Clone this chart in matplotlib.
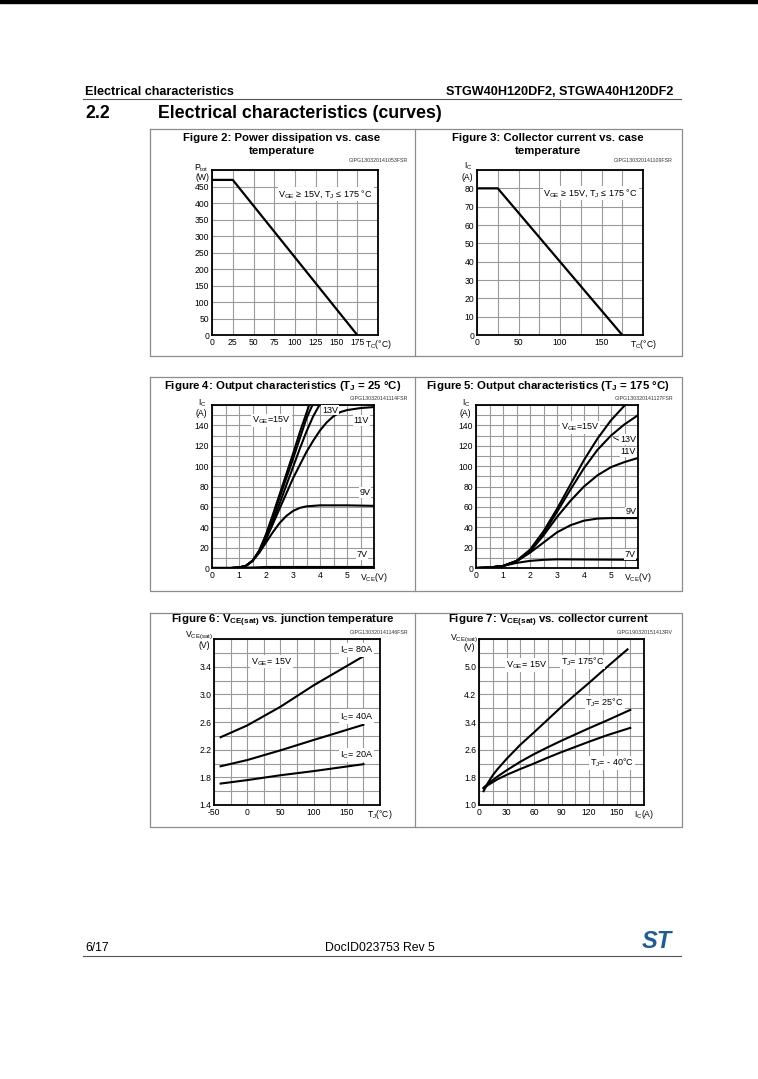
import matplotlib
matplotlib.use("Agg")
import matplotlib.pyplot as plt
import numpy as np

plt.rcParams['font.family'] = ['Liberation Sans', 'DejaVu Sans']
plt.rcParams['mathtext.fontset'] = 'custom'
plt.rcParams['mathtext.rm'] = 'Liberation Sans'
plt.rcParams['mathtext.bf'] = 'Liberation Sans:bold'
plt.rcParams['mathtext.it'] = 'Liberation Sans:italic'

W, H = 758, 1079

# ---- data ----
# Figure 2: power dissipation vs case temperature
tc_pd = [0, 25, 175]
ptot = [470, 470, 0]

# Figure 3: collector current vs case temperature
tc_ic = [0, 25, 175]
ic_max = [80, 80, 0]

# Figure 4: output characteristics, Tj = 25 C
vce4_15a = [0, 0.7, 1.0, 1.25, 1.5, 1.75, 2.0, 2.25, 2.5, 2.75, 3.0, 3.25, 3.6]
ic4_15a = [0, 0, 0.5, 2, 7, 17, 33, 52, 72, 92, 112, 133, 160]
vce4_15b = [0, 0.7, 1.0, 1.25, 1.5, 1.75, 2.0, 2.25, 2.5, 2.75, 3.0, 3.25, 3.5, 3.72]
ic4_15b = [0, 0, 0.5, 2, 7, 17, 32, 50, 69, 88, 107, 127, 147, 160]
vce4_13 = [0, 0.7, 1.0, 1.25, 1.5, 1.75, 2.0, 2.25, 2.5, 2.75, 3.0, 3.25, 3.5, 3.75, 3.98]
ic4_13 = [0, 0, 0.5, 2, 7, 16, 30, 46, 63, 81, 99, 117, 134, 149, 160]
vce4_11 = [0, 0.7, 1.0, 1.25, 1.5, 1.75, 2.0, 2.25, 2.5, 2.75, 3.0, 3.25, 3.5, 3.75,
           4.0, 4.25, 4.5, 4.75, 5.0, 5.5, 6.0]
ic4_11 = [0, 0, 0.5, 2, 7, 16, 28, 43, 58, 73, 88, 101, 114, 125,
          135, 143, 149, 153, 155, 157, 158]
vce4_9 = [0, 0.7, 1.0, 1.25, 1.5, 1.75, 2.0, 2.25, 2.5, 2.75, 3.0, 3.25, 3.5, 4.0, 5.0, 6.0]
ic4_9 = [0, 0, 0.5, 2, 7, 15, 25, 35, 44, 51, 56, 59, 60.5, 61.5, 61.5, 61]
vce4_7 = [0, 0.7, 1.5, 2.0, 6.0]
ic4_7 = [0, 0, 0.5, 1, 1]

# Figure 5: output characteristics, Tj = 175 C
vce5_15 = [0, 0.5, 1.0, 1.5, 2.0, 2.5, 3.0, 3.5, 4.0, 4.5, 5.0, 5.52]
ic5_15 = [0, 0.5, 2, 7, 18, 36, 58, 82, 106, 127, 145, 160]
vce5_13 = [0, 0.5, 1.0, 1.5, 2.0, 2.5, 3.0, 3.5, 4.0, 4.5, 5.0, 5.5, 6.0]
ic5_13 = [0, 0.5, 2, 7, 17, 34, 55, 77, 98, 116, 130, 141, 150]
vce5_11 = [0, 0.5, 1.0, 1.5, 2.0, 2.5, 3.0, 3.5, 4.0, 4.5, 5.0, 5.5, 6.0]
ic5_11 = [0, 0.5, 2, 6.5, 16, 32, 50, 66, 80, 91, 99, 104, 108]
vce5_9 = [0, 0.5, 1.0, 1.5, 2.0, 2.5, 3.0, 3.5, 4.0, 4.5, 5.0, 6.0]
ic5_9 = [0, 0.5, 2, 6.5, 15, 25, 35, 42, 46.5, 48.5, 49, 49]
vce5_7 = [0, 0.5, 1.0, 1.5, 2.0, 2.5, 3.0, 6.0]
ic5_7 = [0, 0.5, 2, 5, 7, 8, 8.5, 8]

# Figure 6: VCE(sat) vs junction temperature
tj6 = [-40, 0, 50, 100, 175]
vsat6_80 = [2.38, 2.55, 2.82, 3.13, 3.55]
vsat6_40 = [1.96, 2.05, 2.19, 2.34, 2.56]
vsat6_20 = [1.71, 1.76, 1.83, 1.89, 1.99]

# Figure 7: VCE(sat) vs collector current
ic7 = [5, 10, 15, 20, 30, 45, 60, 75, 90, 105, 120, 140, 162]
vsat7_175 = [1.40, 1.65, 1.86, 2.03, 2.33, 2.74, 3.10, 3.47, 3.84, 4.19, 4.53, 5.00, 5.50]
ic7b = [5, 10, 15, 20, 30, 45, 60, 75, 90, 105, 120, 140, 165]
vsat7_25 = [1.50, 1.62, 1.72, 1.82, 2.00, 2.25, 2.47, 2.67, 2.86, 3.04, 3.22, 3.45, 3.75]
vsat7_m40 = [1.48, 1.58, 1.66, 1.74, 1.87, 2.04, 2.20, 2.37, 2.53, 2.68, 2.83, 3.02, 3.23]

GRID = '#9a9a9a'
BORDER = '#8c8c8c'
TICK_FS = 6.2
LAB_FS = 6.5


def rect(l, t, r, b):
    return [l / W, 1 - b / H, (r - l) / W, (b - t) / H]


def make_axes(box, xlim, ylim, xgrid, ygrid, xticks, xlabels, yticks, ylabels):
    ax = fig.add_axes(rect(*box))
    ax.set_xlim(*xlim)
    ax.set_ylim(*ylim)
    for g in xgrid:
        ax.axvline(g, color=GRID, lw=0.8, zorder=0)
    for g in ygrid:
        ax.axhline(g, color=GRID, lw=0.8, zorder=0)
    ax.set_xticks(xticks)
    ax.set_xticklabels(xlabels)
    ax.set_yticks(yticks)
    ax.set_yticklabels(ylabels)
    ax.tick_params(length=0, pad=2, labelsize=TICK_FS)
    for s in ax.spines.values():
        s.set_linewidth(1.3)
        s.set_color('black')
    return ax


def label(ax, x, y, s, ha='center'):
    ax.text(x, y, s, fontsize=LAB_FS, ha=ha, va='center', zorder=3,
            bbox=dict(facecolor='white', edgecolor='none', pad=0.6))


fig = plt.figure(figsize=(W / 100, H / 100), dpi=100)

# overlay in page pixels for page furniture
ov = fig.add_axes([0, 0, 1, 1])
ov.set_xlim(0, W)
ov.set_ylim(H, 0)
ov.axis('off')

ov.fill_between([0, W], 0, 3, color='black')
ov.text(85, 92, 'Electrical characteristics', fontsize=9.1, fontweight='bold', va='center')
ov.text(673, 92, 'STGW40H120DF2, STGWA40H120DF2', fontsize=9.1, fontweight='bold',
        va='center', ha='right')
ov.plot([83, 681], [98.5, 98.5], color='#555555', lw=0.8)
ov.text(85, 113, '2.2', fontsize=12.8, fontweight='bold', va='center')
ov.text(158, 113, 'Electrical characteristics (curves)', fontsize=12.8, fontweight='bold',
        va='center')

# table borders
for top, bot in [(129, 356), (377, 591), (613, 827)]:
    ov.plot([150, 682, 682, 150, 150], [top, top, bot, bot, top], color=BORDER, lw=0.9)
    ov.plot([415, 415], [top, bot], color=BORDER, lw=0.9)

# footer
ov.text(85, 948, '6/17', fontsize=8.8, va='center')
ov.text(380, 948, 'DocID023753 Rev 5', fontsize=8.8, va='center', ha='center')
ov.plot([83, 681], [955.5, 955.5], color='#555555', lw=0.8)
ov.text(657, 942, 'ST', fontsize=17, fontweight='bold', style='italic', color='#1d5b9a',
        ha='center', va='center')

# figure titles and codes
TFS = 8.2
ov.text(282, 138, 'Figure 2: Power dissipation vs. case', fontsize=TFS, fontweight='bold',
        ha='center', va='center')
ov.text(282, 151, 'temperature', fontsize=TFS, fontweight='bold', ha='center', va='center')
ov.text(548, 138, 'Figure 3: Collector current vs. case', fontsize=TFS, fontweight='bold',
        ha='center', va='center')
ov.text(548, 151, 'temperature', fontsize=TFS, fontweight='bold', ha='center', va='center')
ov.text(283, 386, r'Figure 4: Output characteristics (T$_\mathbf{J}$ = 25 °C)', fontsize=TFS,
        fontweight='bold', ha='center', va='center')
ov.text(548, 386, r'Figure 5: Output characteristics (T$_\mathbf{J}$ = 175 °C)', fontsize=TFS,
        fontweight='bold', ha='center', va='center')
ov.text(283, 621, r'Figure 6: V$_\mathbf{CE(sat)}$ vs. junction temperature', fontsize=TFS,
        fontweight='bold', ha='center', va='center')
ov.text(548, 621, r'Figure 7: V$_\mathbf{CE(sat)}$ vs. collector current', fontsize=TFS,
        fontweight='bold', ha='center', va='center')

CFS = 3.8
for x, y, s in [(408, 161, 'GIPG130320141053FSR'), (673, 161, 'GIPG130320141109FSR'),
                (408, 398, 'GIPG130320141114FSR'), (673, 398, 'GIPG130320141127FSR'),
                (408, 632, 'GIPG130320141146FSR'), (673, 632, 'GIPG190320151413RV')]:
    ov.text(x, y, s, fontsize=CFS, ha='right', va='center', color='#333333')

# y-axis unit labels
for x, y, s in [(209, 168, r'P$_{\rm tot}$'), (209, 178, '(W)'),
                (473, 166, r'I$_{\rm C}$'), (473, 177, '(A)'),
                (207, 403, r'I$_{\rm C}$'), (207, 413, '(A)'),
                (471, 403, r'I$_{\rm C}$'), (471, 413, '(A)'),
                (213, 636, r'V$_{\rm CE(sat)}$'), (210, 645, '(V)'),
                (478, 639, r'V$_{\rm CE(sat)}$'), (475, 648, '(V)')]:
    ov.text(x, y, s, fontsize=TICK_FS, ha='right', va='center')

# ---- Figure 2 ----
xt = np.arange(0, 201, 25)
ax2 = make_axes((212, 170, 378, 335), (0, 200), (0, 500), xt, np.arange(0, 501, 50),
                xt, [str(v) for v in xt[:-1]] + [r'T$_{\rm C}$(°C)'],
                np.arange(0, 451, 50), [str(v) for v in np.arange(0, 451, 50)])
ax2.plot(tc_pd, ptot, color='black', lw=1.6)
label(ax2, 80, 428, r'V$_{\rm GE}$ ≥ 15V, T$_{\rm J}$ ≤ 175 °C', ha='left')

# ---- Figure 3 ----
ax3 = make_axes((477, 170, 643, 335), (0, 200), (0, 90), np.arange(0, 201, 25),
                np.arange(0, 91, 10), [0, 50, 100, 150, 200],
                ['0', '50', '100', '150', r'T$_{\rm C}$(°C)'],
                np.arange(0, 81, 10), [str(v) for v in np.arange(0, 81, 10)])
ax3.plot(tc_ic, ic_max, color='black', lw=1.6)
label(ax3, 80, 77.5, r'V$_{\rm GE}$ ≥ 15V, T$_{\rm J}$ ≤ 175 °C', ha='left')

# ---- Figure 4 ----
ax4 = make_axes((212, 405, 374, 568), (0, 6), (0, 160), np.arange(0, 6.01, 0.5),
                np.arange(0, 161, 10), np.arange(0, 7),
                ['0', '1', '2', '3', '4', '5', r'V$_{\rm CE}$(V)'],
                np.arange(0, 141, 20), [str(v) for v in np.arange(0, 141, 20)])
for xs, ys in [(vce4_15a, ic4_15a), (vce4_15b, ic4_15b), (vce4_13, ic4_13),
               (vce4_11, ic4_11), (vce4_9, ic4_9), (vce4_7, ic4_7)]:
    ax4.plot(xs, ys, color='black', lw=1.5)
label(ax4, 2.2, 145, r'V$_{\rm GE}$=15V')
label(ax4, 4.37, 155, '13V')
label(ax4, 5.52, 145, '11V')
label(ax4, 5.67, 74, '9V')
label(ax4, 5.56, 13, '7V')

# ---- Figure 5 ----
ax5 = make_axes((476, 405, 638, 568), (0, 6), (0, 160), np.arange(0, 6.01, 0.5),
                np.arange(0, 161, 10), np.arange(0, 7),
                ['0', '1', '2', '3', '4', '5', r'V$_{\rm CE}$(V)'],
                np.arange(0, 141, 20), [str(v) for v in np.arange(0, 141, 20)])
for xs, ys in [(vce5_15, ic5_15), (vce5_13, ic5_13), (vce5_11, ic5_11),
               (vce5_9, ic5_9), (vce5_7, ic5_7)]:
    ax5.plot(xs, ys, color='black', lw=1.5)
label(ax5, 3.85, 138, r'V$_{\rm GE}$=15V')
ax5.plot([5.1, 5.4], [128, 124], color='black', lw=0.6)
label(ax5, 5.63, 126, '13V')
label(ax5, 5.63, 114, '11V')
label(ax5, 5.74, 55, '9V')
label(ax5, 5.7, 13, '7V')

# ---- Figure 6 ----
ax6 = make_axes((214, 639, 380, 805), (-50, 200), (1.4, 3.8), np.arange(-50, 201, 25),
                np.arange(1.4, 3.81, 0.2), [-50, 0, 50, 100, 150, 200],
                ['-50', '0', '50', '100', '150', r'T$_{\rm J}$(°C)'],
                [1.4, 1.8, 2.2, 2.6, 3.0, 3.4], ['1.4', '1.8', '2.2', '2.6', '3.0', '3.4'])
for ys in [vsat6_80, vsat6_40, vsat6_20]:
    ax6.plot(tj6, ys, color='black', lw=1.5)
label(ax6, 37, 3.47, r'V$_{\rm GE}$= 15V')
label(ax6, 165, 3.64, r'I$_{\rm C}$= 80A')
label(ax6, 165, 2.68, r'I$_{\rm C}$= 40A')
label(ax6, 165, 2.12, r'I$_{\rm C}$= 20A')

# ---- Figure 7 ----
ax7 = make_axes((479, 639, 644, 805), (0, 180), (1.0, 5.8), np.arange(0, 181, 15),
                np.arange(1.0, 5.81, 0.4), np.arange(0, 181, 30),
                ['0', '30', '60', '90', '120', '150', r'I$_{\rm C}$(A)'],
                [1.0, 1.8, 2.6, 3.4, 4.2, 5.0], ['1.0', '1.8', '2.6', '3.4', '4.2', '5.0'])
ax7.plot(ic7, vsat7_175, color='black', lw=1.5)
ax7.plot(ic7b, vsat7_25, color='black', lw=1.5)
ax7.plot(ic7b, vsat7_m40, color='black', lw=1.5)
label(ax7, 52, 5.05, r'V$_{\rm GE}$= 15V')
label(ax7, 113, 5.14, r'T$_{\rm J}$= 175°C')
label(ax7, 137, 3.96, r'T$_{\rm J}$= 25°C')
label(ax7, 145, 2.22, r'T$_{\rm J}$= - 40°C')

fig.savefig('out.png', dpi=100, facecolor='white')
